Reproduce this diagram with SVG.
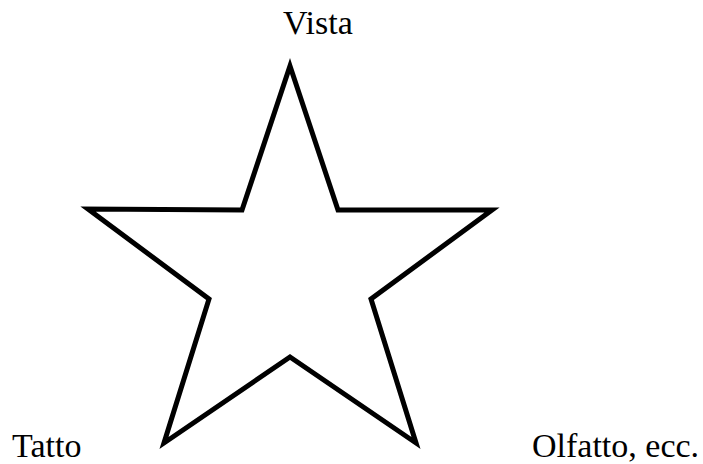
<svg xmlns="http://www.w3.org/2000/svg" width="703" height="464" viewBox="0 0 703 464">
<style>
.lbl{font-family:"Liberation Serif","Times New Roman",serif;font-size:34px;fill:#000}
.star{fill:none;stroke:#000;stroke-width:5;stroke-linejoin:miter;stroke-miterlimit:10}
</style>
<rect width="703" height="464" fill="#fff"/>
<g id="star">
<polygon class="star" points="290,66 338,210 492,210 371,299 416,443 290,357 164,443 209,299 88,209 242,210"/>
</g>
<g id="vista"><text class="lbl" x="283" y="34">Vista</text></g>
<g id="tatto"><text class="lbl" x="12" y="457">Tatto</text></g>
<g id="olfatto"><text class="lbl" x="532" y="457">Olfatto, ecc.</text></g>
<g id="connectors"></g>
</svg>
